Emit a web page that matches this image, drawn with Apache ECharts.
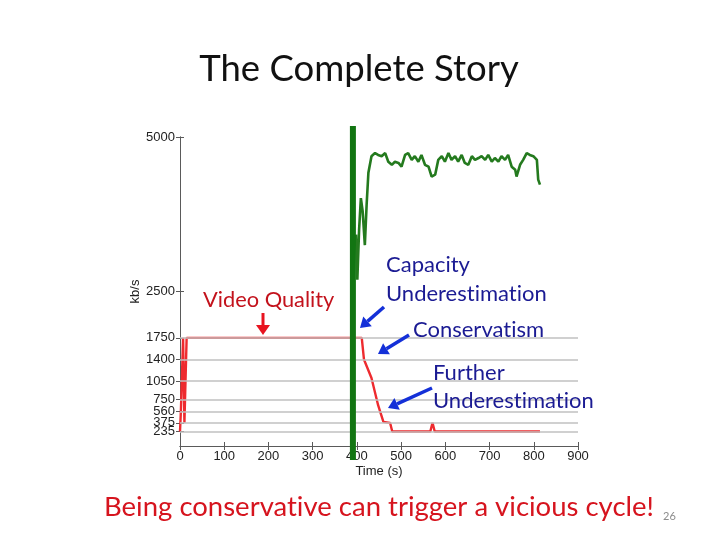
<!DOCTYPE html>
<html><head><meta charset="utf-8">
<script src="https://cdn.jsdelivr.net/npm/echarts@6/dist/echarts.min.js"></script>
<style>html,body{margin:0;padding:0;background:#fff}#c{width:720px;height:540px}</style>
</head><body><div id="c"></div>
<script>
// ---- data ----
const xTickStep = 100;
const xMin = 0, xMax = 900;
const yMin = 0, yMax = 5000;
const yTicks = [235, 375, 560, 750, 1050, 1400, 1750, 2500, 5000];
const yLabelsA = [235, 560, 1050, 1750, 5000];
const yLabelsB = [375, 750, 1400, 2500];
const gridValues = [235, 375, 560, 750, 1050, 1400, 1750];

// video quality (selected bitrate, kb/s)
const videoTime = [0, 2, 6, 7, 9, 10, 13, 15, 411, 416, 433, 448, 460, 475, 480, 566, 571, 576, 814];
const videoRate = [235, 560, 560, 1750, 1750, 375, 375, 1750, 1750, 1400, 1100, 660, 390, 375, 235, 235, 375, 235, 235];

// measured capacity (kb/s)
const capTime = [398, 401, 405, 409, 413, 418, 422, 426, 433, 441, 448, 456, 464, 471, 479, 486, 494, 501, 509, 516, 524, 531, 539, 546, 554, 562, 569, 577, 584, 592, 599, 607, 614, 622, 629, 637, 644, 652, 660, 667, 675, 682, 690, 697, 705, 712, 720, 727, 735, 742, 750, 758, 761, 769, 776, 784, 791, 799, 807, 810, 814];
const capRate = [3420, 2690, 3500, 4010, 3800, 3250, 3900, 4420, 4690, 4740, 4710, 4690, 4740, 4600, 4550, 4600, 4580, 4520, 4710, 4740, 4630, 4690, 4600, 4710, 4550, 4520, 4360, 4390, 4630, 4690, 4600, 4740, 4630, 4690, 4600, 4710, 4580, 4550, 4690, 4630, 4660, 4690, 4630, 4710, 4600, 4660, 4600, 4690, 4630, 4710, 4520, 4470, 4360, 4550, 4630, 4740, 4710, 4690, 4630, 4310, 4230];

// annotation: vertical marker time
const markerTime = 391;

// draw text without optional ligatures (as in the original slide)
(function () {
  const P = CanvasRenderingContext2D.prototype, orig = P.fillText;
  P.fillText = function () {
    try { this.textRendering = 'optimizeSpeed'; this.fontVariantLigatures = 'none'; } catch (e) {}
    return orig.apply(this, arguments);
  };
})();

const chart = echarts.init(document.getElementById('c'));
const axisCol = '#5a5a5a';
const labelFont = {fontFamily: 'Liberation Sans', fontSize: 13, color: '#222'};
const plain = v => String(v);

chart.setOption({
  animation: false,
  backgroundColor: '#fff',
  grid: {left: 180, right: 142, top: 137, bottom: 94, containLabel: false},
  xAxis: [{
    type: 'value', min: xMin, max: xMax, interval: xTickStep,
    name: 'Time (s)', nameLocation: 'middle', nameGap: 19, nameMoveOverlap: false,
    nameTextStyle: {fontFamily: 'Liberation Sans', fontSize: 13, color: '#222'},
    axisLine: {lineStyle: {color: axisCol, width: 1}},
    axisTick: {inside: true, length: 4, lineStyle: {color: axisCol}},
    axisLabel: Object.assign({margin: 4, formatter: plain}, labelFont),
    splitLine: {show: false}
  }, {
    type: 'value', position: 'top', min: xMin, max: xMax, interval: xTickStep,
    axisLine: {show: true, lineStyle: {color: axisCol, width: 1}},
    axisTick: {inside: true, length: 4, lineStyle: {color: axisCol}},
    axisLabel: {show: false}, splitLine: {show: false}
  }],
  yAxis: [{
    type: 'value', min: yMin, max: yMax,
    name: 'kb/s', nameLocation: 'middle', nameGap: 38, nameRotate: 90, nameMoveOverlap: false,
    nameTextStyle: {fontFamily: 'Liberation Sans', fontSize: 13, color: '#222'},
    axisLine: {show: true, lineStyle: {color: axisCol, width: 1}},
    axisTick: {inside: true, length: 4, customValues: yTicks, lineStyle: {color: axisCol}},
    axisLabel: Object.assign({margin: 5, customValues: yLabelsA, hideOverlap: false,
      showMinLabel: true, showMaxLabel: true, formatter: plain}, labelFont),
    splitLine: {show: false}
  }, {
    type: 'value', position: 'right', min: yMin, max: yMax,
    axisLine: {show: true, lineStyle: {color: axisCol, width: 1}},
    axisTick: {inside: true, length: 4, customValues: yTicks, lineStyle: {color: axisCol}},
    axisLabel: {show: false}, splitLine: {show: false}
  }, {
    type: 'value', position: 'left', offset: 0, min: yMin, max: yMax,
    axisLine: {show: false}, axisTick: {show: false}, splitLine: {show: false},
    axisLabel: Object.assign({margin: 5, customValues: yLabelsB, hideOverlap: false,
      showMinLabel: true, showMaxLabel: true, formatter: plain}, labelFont)
  }],
  series: [{
    type: 'line', data: [], z: 1, silent: true,
    markLine: {
      silent: true, symbol: ['none', 'none'], label: {show: false},
      lineStyle: {color: '#c0c0c0', width: 1.6, type: 'solid'},
      data: gridValues.map(v => ({yAxis: v}))
    }
  }, {
    type: 'line', z: 3, showSymbol: false,
    data: videoTime.map((t, i) => [t, videoRate[i]]),
    lineStyle: {color: '#ee2b2f', width: 2.4}
  }, {
    type: 'line', z: 3, showSymbol: false,
    data: capTime.map((t, i) => [t, capRate[i]]),
    lineStyle: {color: '#247a1e', width: 2.6}
  }]
});

// annotations
const blue = '#1430d8', navy = '#1b1b93', darkRed = '#c3121c';
function arrow(x1, y1, x2, y2, color, w, hl, hw) {
  const dx = x2 - x1, dy = y2 - y1, L = Math.hypot(dx, dy);
  const ux = dx / L, uy = dy / L, px = -uy, py = ux;
  const bx = x2 - ux * hl, by = y2 - uy * hl;
  return [
    {type: 'line', z: 20, shape: {x1: x1, y1: y1, x2: bx, y2: by}, style: {stroke: color, lineWidth: w}},
    {type: 'polygon', z: 20, shape: {points: [[x2, y2], [bx + px * hw, by + py * hw], [bx - px * hw, by - py * hw]]}, style: {fill: color}}
  ];
}
function txt(x, y, s, color, size, family, align) {
  return {type: 'text', z: 20, x: x, y: y, style: {text: s, fill: color, font: size + 'px ' + (family || 'Lato'), textAlign: align || 'left', textVerticalAlign: 'middle'}};
}
const mx = chart.convertToPixel({xAxisIndex: 0}, markerTime);
const graphics = [
  {type: 'rect', z: 15, shape: {x: mx - 3, y: 126, width: 6, height: 334}, style: {fill: '#127512'}},
  txt(359, 69, 'The Complete Story', '#111', 36.5, 'Lato', 'center'),
  txt(203, 300, 'Video Quality', darkRed, 21.8),
  txt(386, 265, 'Capacity', navy, 22),
  txt(386, 294, 'Underestimation', navy, 22),
  txt(413, 330, 'Conservatism', navy, 22),
  txt(433, 373, 'Further', navy, 22),
  txt(433, 401, 'Underestimation', navy, 22),
  txt(104, 507, 'Being conservative can trigger a vicious cycle!', '#d6141e', 27.5),
  txt(663, 516, '26', '#8c8c8c', 11)
].concat(
  arrow(263, 313, 263, 335, '#e81420', 3, 10, 7),
  arrow(384, 307, 360, 328, blue, 3.5, 10, 6.5),
  arrow(409, 335, 378, 354, blue, 3.5, 10, 6.5),
  arrow(432, 388, 388, 408, blue, 3.5, 10, 6.5)
);
chart.setOption({graphic: graphics});
</script>
</body></html>
